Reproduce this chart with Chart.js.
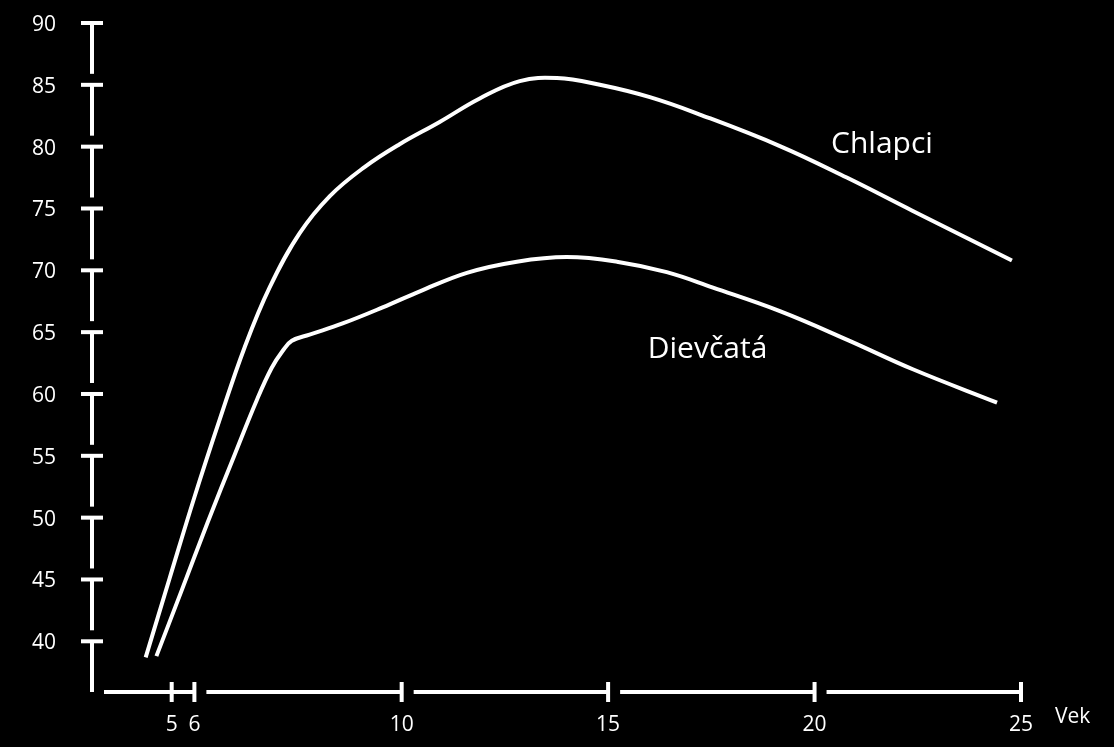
<!DOCTYPE html>
<html>
<head>
<meta charset="utf-8">
<title>Vek</title>
<script src="https://cdn.jsdelivr.net/npm/chart.js@4.4.1/dist/chart.umd.min.js"></script>
<style>
    body { margin: 0; background: #000; }
    canvas { display: block; }
</style>
</head>
<body>
<canvas id="myChart" width="1114" height="747"></canvas>
<script>
// vek (os x) a hodnoty kriviek
const ageBoys = [3.80, 4.38, 4.98, 5.59, 6.20, 6.80, 7.53, 8.26, 9.10, 9.95, 10.92, 11.89, 12.86, 13.76, 14.80, 16.01, 17.22, 19.16, 20.78, 22.38, 24.78];
const boys = [38.7, 45.1, 51.65, 57.9, 63.8, 68.6, 73.0, 76.0, 78.35, 80.2, 82.0, 83.9, 85.3, 85.55, 85.0, 84.0, 82.6, 80.05, 77.5, 74.8, 70.8];
const ageGirls = [4.06, 4.67, 5.30, 5.95, 6.49, 6.85, 7.12, 7.34, 7.77, 8.57, 9.54, 10.44, 11.58, 12.79, 14.00, 15.21, 16.42, 17.54, 19.16, 20.78, 22.38, 24.42];
const girls = [38.8, 44.1, 49.6, 55.05, 59.5, 62.1, 63.5, 64.3, 64.8, 65.7, 67.0, 68.3, 69.8, 70.7, 71.07, 70.7, 69.85, 68.6, 66.7, 64.4, 62.0, 59.3];

// popisky osi
const xTickValues = [4.43, 4.98, 10, 15, 20, 25];
const xTickLabels = ['5', '6', '10', '15', '20', '25'];
const yTickValues = [40, 45, 50, 55, 60, 65, 70, 75, 80, 85, 90];
const seriesNames = ['Chlapci', 'Dievčatá'];

const FONT = "'Open Sans', 'Noto Sans', sans-serif";

document.addEventListener('DOMContentLoaded', () => {
    var ctx = document.getElementById('myChart').getContext('2d');

    // osi kreslene po kuskoch (T na osi y, useky s carkou na osi x)
    const segmentedAxes = {
        id: 'segmentedAxes',
        afterDraw(chart) {
            const c = chart.ctx;
            const xs = chart.scales.x;
            const ys = chart.scales.y;
            const x0 = chart.chartArea.left;
            const yb = chart.chartArea.bottom;
            c.save();
            c.fillStyle = '#fff';

            // os y
            const yp = yTickValues.map(v => ys.getPixelForValue(v));
            for (let i = 0; i < yp.length; i++) {
                const top = yp[i];
                const bottom = i === 0 ? yb : yp[i - 1] - 11;
                c.fillRect(x0 - 11, top - 2, 22, 4);
                c.fillRect(x0 - 2, top, 4, bottom - top);
            }

            // os x
            const xp = xTickValues.map(v => xs.getPixelForValue(v));
            let start = x0 + 12;
            for (let i = 0; i < xp.length; i++) {
                c.fillRect(start, yb - 2, xp[i] - start, 4);
                c.fillRect(xp[i] - 2, yb - 10, 4, 20);
                const next = xp[i + 1];
                start = (next !== undefined && next - xp[i] < 40) ? xp[i] : xp[i] + 12;
            }

            // popisky kriviek a osi
            c.font = '30px ' + FONT;
            c.textBaseline = 'alphabetic';
            c.textAlign = 'left';
            c.fillText(seriesNames[0], xs.getPixelForValue(20.4), ys.getPixelForValue(79.5));
            c.fillText(seriesNames[1], xs.getPixelForValue(15.96), ys.getPixelForValue(62.9));
            c.font = '21px ' + FONT;
            c.fillText('Vek', chart.chartArea.right + 34, yb + 31);
            c.restore();
        }
    };

    var myChart = new Chart(ctx, {
        type: 'line',
        data: {
            datasets: [{
                label: seriesNames[0],
                data: ageBoys.map((a, i) => ({ x: a, y: boys[i] })),
                borderColor: '#fff',
                borderWidth: 4,
                pointRadius: 0,
                tension: 0.4,
                fill: false
            }, {
                label: seriesNames[1],
                data: ageGirls.map((a, i) => ({ x: a, y: girls[i] })),
                borderColor: '#fff',
                borderWidth: 4,
                pointRadius: 0,
                tension: 0.4,
                fill: false
            }]
        },
        options: {
            responsive: false,
            animation: false,
            clip: false,
            layout: { padding: { left: 0, top: 23, right: 93, bottom: 0 } },
            plugins: {
                legend: { display: false },
                tooltip: { enabled: false }
            },
            scales: {
                x: {
                    type: 'linear',
                    min: 2.5,
                    max: 25,
                    grid: { display: false, drawTicks: false },
                    border: { display: false },
                    afterBuildTicks: (axis) => { axis.ticks = xTickValues.map(v => ({ value: v })); },
                    afterFit: (axis) => {
                        axis.height = 55;
                        axis.paddingLeft = 0;
                        axis.paddingRight = 0;
                    },
                    ticks: {
                        color: '#fff',
                        font: { family: FONT, size: 21 },
                        padding: 20,
                        autoSkip: false,
                        maxRotation: 0,
                        callback: (value, index) => xTickLabels[index]
                    }
                },
                y: {
                    min: 35.9,
                    max: 90,
                    grid: { display: false, drawTicks: false },
                    border: { display: false },
                    afterBuildTicks: (axis) => { axis.ticks = yTickValues.map(v => ({ value: v })); },
                    afterFit: (axis) => {
                        axis.width = 92;
                        axis.paddingTop = 0;
                        axis.paddingBottom = 0;
                    },
                    ticks: {
                        color: '#fff',
                        font: { family: FONT, size: 21 },
                        padding: 36,
                        labelOffset: 2,
                        callback: (value) => String(value)
                    }
                }
            }
        },
        plugins: [segmentedAxes]
    });
});
</script>
</body>
</html>
